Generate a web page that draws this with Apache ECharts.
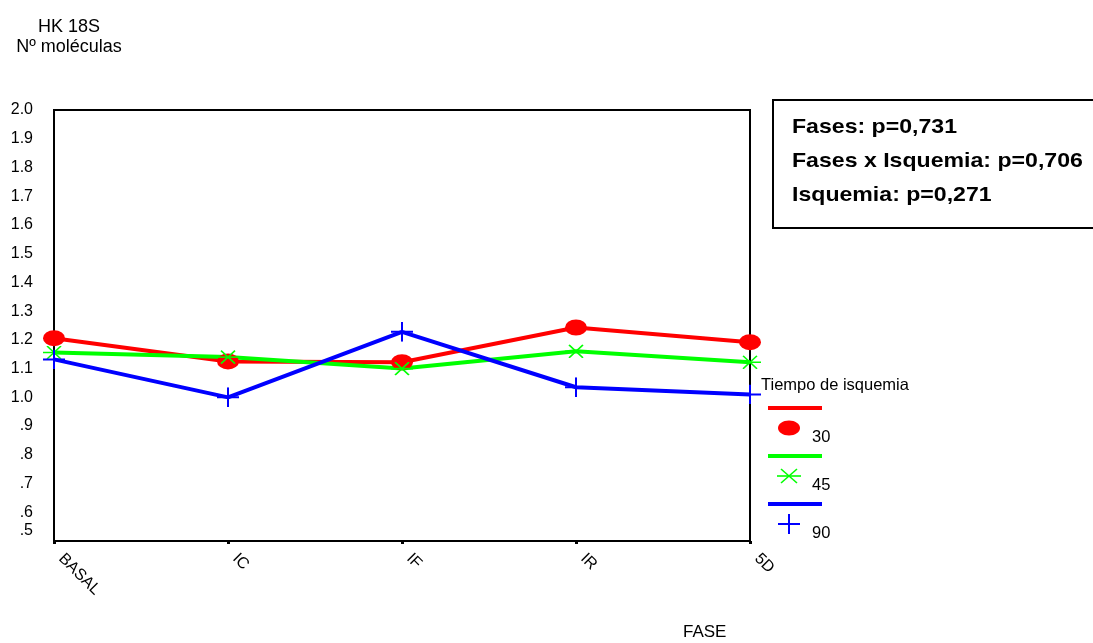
<!DOCTYPE html>
<html>
<head>
<meta charset="utf-8">
<title>HK 18S</title>
<script src="https://cdn.jsdelivr.net/npm/echarts@6/dist/echarts.min.js"></script>
<style>
  html, body { margin: 0; padding: 0; background: #fff; }
  #chart { width: 1093px; height: 643px; }
</style>
</head>
<body>
<div id="chart"></div>
<script>
// Phases of the study (x axis)
const fases = ['BASAL', 'IC', 'IF', 'IR', '5D'];

// Mean number of molecules per phase, by ischemia time (minutes)
const isquemia30 = [1.206, 1.125, 1.122, 1.243, 1.192];
const isquemia45 = [1.156, 1.140, 1.100, 1.160, 1.122];
const isquemia90 = [1.132, 1.000, 1.228, 1.035, 1.010];

// Y axis ticks
const yMin = 0.5;
const yMax = 2.0;
const yStep = 0.1;

// Statistics shown in the box
const estadisticos = [
  'Fases: p=0,731',
  'Fases x Isquemia: p=0,706',
  'Isquemia: p=0,271'
];

// Legend entries
const leyendaTitulo = 'Tiempo de isquemia';
const leyendaNombres = ['30', '45', '90'];

const FONT = '"Liberation Sans", Arial, Helvetica, sans-serif';
const RED = '#ff0000', GREEN = '#00ff00', BLUE = '#0000ff';

// Stroked marker shapes as inline SVG
const svgUri = s => 'image://data:image/svg+xml;charset=utf-8,' + encodeURIComponent(s);
const asterisk = svgUri(
  '<svg xmlns="http://www.w3.org/2000/svg" width="22" height="14" viewBox="0 0 22 14">' +
  '<g stroke="' + GREEN + '" stroke-width="1.6" fill="none">' +
  '<line x1="0" y1="7" x2="22" y2="7"/><line x1="4" y1="0.5" x2="18" y2="13.5"/>' +
  '<line x1="18" y1="0.5" x2="4" y2="13.5"/></g></svg>');
const plus = svgUri(
  '<svg xmlns="http://www.w3.org/2000/svg" width="22" height="20" viewBox="0 0 22 20">' +
  '<g stroke="' + BLUE + '" stroke-width="2" fill="none">' +
  '<line x1="0" y1="10" x2="22" y2="10"/><line x1="11" y1="0" x2="11" y2="20"/></g></svg>');

const chart = echarts.init(document.getElementById('chart'), null, { renderer: 'canvas' });

const seriesDefs = [
  { name: leyendaNombres[0], data: isquemia30, color: RED, symbol: 'circle', size: [22, 16] },
  { name: leyendaNombres[1], data: isquemia45, color: GREEN, symbol: asterisk, size: [22, 14] },
  { name: leyendaNombres[2], data: isquemia90, color: BLUE, symbol: plus, size: [22, 20] }
];

// Legend drawn as graphic elements: line sample, marker sample, label
const legendX = 768, legendY0 = 408, legendGap = 48;
const legendGraphics = [{
  type: 'text', x: 761, y: 377,
  style: { text: leyendaTitulo, font: '16.5px ' + FONT, fill: '#000' }
}];
seriesDefs.forEach((s, i) => {
  const y = legendY0 + i * legendGap;
  legendGraphics.push({
    type: 'line', shape: { x1: legendX, y1: y, x2: legendX + 54, y2: y },
    style: { stroke: s.color, lineWidth: 4 }
  });
  const my = y + 20;
  if (i === 0) {
    legendGraphics.push({ type: 'ellipse', shape: { cx: 789, cy: my, rx: 11, ry: 7.5 }, style: { fill: s.color } });
  } else if (i === 1) {
    legendGraphics.push({ type: 'line', shape: { x1: 777, y1: my, x2: 801, y2: my }, style: { stroke: s.color, lineWidth: 1.6 } });
    legendGraphics.push({ type: 'line', shape: { x1: 781, y1: my - 7, x2: 797, y2: my + 7 }, style: { stroke: s.color, lineWidth: 1.6 } });
    legendGraphics.push({ type: 'line', shape: { x1: 797, y1: my - 7, x2: 781, y2: my + 7 }, style: { stroke: s.color, lineWidth: 1.6 } });
  } else {
    legendGraphics.push({ type: 'line', shape: { x1: 778, y1: my, x2: 800, y2: my }, style: { stroke: s.color, lineWidth: 2 } });
    legendGraphics.push({ type: 'line', shape: { x1: 789, y1: my - 10, x2: 789, y2: my + 10 }, style: { stroke: s.color, lineWidth: 2 } });
  }
  legendGraphics.push({
    type: 'text', x: 812, y: y + 21,
    style: { text: s.name, font: '16.5px ' + FONT, fill: '#000' }
  });
});

// Statistics box
const boxGraphics = [{
  type: 'rect', shape: { x: 773, y: 100, width: 330, height: 128 },
  style: { fill: '#fff', stroke: '#000', lineWidth: 2 }
}];
estadisticos.forEach((t, i) => {
  boxGraphics.push({
    type: 'text', x: 792, y: 117 + i * 34, scaleX: 1.1,
    style: { text: t, font: 'bold 21px ' + FONT, fill: '#000' }
  });
});

const yLabel = v => {
  const s = v.toFixed(1);
  return v < 1 ? s.replace(/^0/, '') : s;
};

const option = {
  animation: false,
  backgroundColor: '#fff',
  grid: {
    left: 54, top: 110, width: 696, height: 431,
    show: true, borderColor: '#000', borderWidth: 2, containLabel: false
  },
  xAxis: {
    type: 'category',
    data: fases,
    boundaryGap: false,
    axisLine: { lineStyle: { color: '#000', width: 2 } },
    axisTick: { show: true, length: 3, alignWithLabel: true, lineStyle: { color: '#000', width: 3 } },
    axisLabel: { rotate: -45, margin: 8, padding: [0, 0, 0, 10], fontFamily: FONT, fontSize: 16, color: '#000' },
    splitLine: { show: false }
  },
  yAxis: {
    type: 'value',
    min: yMin, max: yMax, interval: yStep,
    axisLine: { show: true, lineStyle: { color: '#000', width: 2 } },
    axisTick: { show: false },
    splitLine: { show: false },
    axisLabel: {
      margin: 21, fontFamily: FONT, fontSize: 16, color: '#000',
      formatter: v => (Math.abs(v - yMin) < 1e-6 ? '{lo|' + yLabel(v) + '}' : yLabel(v)),
      rich: { lo: { fontFamily: FONT, fontSize: 16, color: '#000', padding: [0, 0, 20, 0] } }
    }
  },
  series: seriesDefs.map(s => ({
    name: s.name,
    type: 'line',
    data: s.data,
    symbol: s.symbol,
    symbolSize: s.size,
    showSymbol: true,
    lineStyle: { color: s.color, width: 4 },
    itemStyle: { color: s.color },
    z: 3
  })),
  graphic: [
    {
      type: 'text', x: 69, y: 17,
      style: { text: 'HK 18S\nNº moléculas', font: '18px ' + FONT, fill: '#000', align: 'center', lineHeight: 20 }
    },
    {
      type: 'text', x: 683, y: 624,
      style: { text: 'FASE', font: '17px ' + FONT, fill: '#000' }
    }
  ].concat(boxGraphics, legendGraphics)
};

chart.setOption(option);
</script>
</body>
</html>
